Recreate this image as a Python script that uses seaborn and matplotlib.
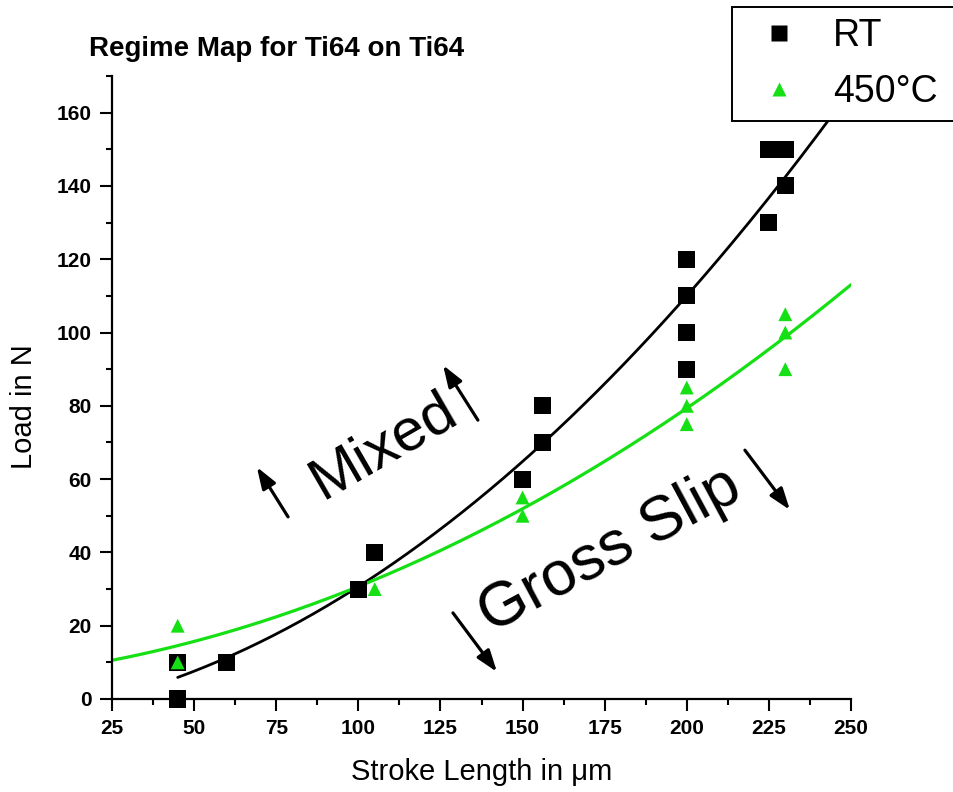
import numpy as np
import pandas as pd
import matplotlib
matplotlib.use("Agg")
import matplotlib.pyplot as plt
from matplotlib.lines import Line2D
import seaborn as sns

# Fretting regime map data: stroke length (um) vs. normal load (N)
rt_stroke = [45, 45, 60, 100, 105, 150, 156, 156, 200, 200, 200, 200, 225, 225, 230, 230]
rt_load = [0, 10, 10, 30, 40, 60, 70, 80, 90, 100, 110, 120, 130, 150, 150, 140]

hot_stroke = [45, 45, 105, 150, 150, 200, 200, 200, 230, 230, 230]
hot_load = [20, 10, 30, 55, 50, 85, 80, 75, 105, 100, 90]

series_labels = ["RT", "450°C"]
x_ticks = [25, 50, 75, 100, 125, 150, 175, 200, 225, 250]
y_ticks = [0, 20, 40, 60, 80, 100, 120, 140, 160]

BLACK = "#000000"
GREEN = "#14e014"

sns.set_style("ticks")
plt.rcParams["font.family"] = ["Liberation Sans", "DejaVu Sans"]
plt.rcParams.update({"text.color": BLACK, "axes.labelcolor": BLACK,
                     "xtick.color": BLACK, "ytick.color": BLACK,
                     "axes.edgecolor": BLACK})

fig = plt.figure(figsize=(9.54, 7.92), dpi=100)
ax = fig.add_axes([112 / 954, 1 - 699 / 792, (851 - 112) / 954, (699 - 76) / 792])

rt = pd.DataFrame({"stroke": rt_stroke, "load": rt_load})
hot = pd.DataFrame({"stroke": hot_stroke, "load": hot_load})

# second-order trend curves through each data set
rt_coef = np.polyfit(rt["stroke"], rt["load"], 2)
hot_coef = np.polyfit(hot["stroke"], hot["load"], 2)
rt_x = np.linspace(min(rt_stroke), 250, 200)
hot_x = np.linspace(25, 250, 200)
rt_fit = pd.DataFrame({"stroke": rt_x, "load": np.polyval(rt_coef, rt_x)})
hot_fit = pd.DataFrame({"stroke": hot_x, "load": np.polyval(hot_coef, hot_x)})

sns.lineplot(data=rt_fit, x="stroke", y="load", color=BLACK, lw=2.0, ax=ax, zorder=2)
sns.lineplot(data=hot_fit, x="stroke", y="load", color=GREEN, lw=2.3, ax=ax, zorder=2)

sns.scatterplot(data=rt, x="stroke", y="load", marker="s", s=150, color=BLACK,
                edgecolor="none", ax=ax, zorder=3, clip_on=False)
sns.scatterplot(data=hot, x="stroke", y="load", marker="^", s=100, color=GREEN,
                edgecolor="none", ax=ax, zorder=4, clip_on=False)

ax.set_xlim(25, 250)
ax.set_ylim(0, 170)
ax.set_xticks(x_ticks)
ax.set_yticks(y_ticks)
ax.set_xticks([t + 12.5 for t in x_ticks[:-1]], minor=True)
ax.set_yticks([t + 10 for t in y_ticks], minor=True)
ax.tick_params(which="major", length=8.5, width=1.5, direction="out", pad=6,
               labelsize=15)
ax.tick_params(which="minor", length=4, width=1.5, direction="out")
for lab in ax.get_xticklabels() + ax.get_yticklabels():
    lab.set_fontweight("bold")

sns.despine(ax=ax)
for side in ("left", "bottom"):
    ax.spines[side].set_linewidth(1.6)

ax.set_xlabel("Stroke Length in μm", fontsize=21, labelpad=14)
ax.set_ylabel("Load in N", fontsize=21)
ax.yaxis.set_label_coords(-0.100, 0.47)

fig.text(89 / 954, 1 - 56 / 792, "Regime Map for Ti64 on Ti64", fontsize=20,
         fontweight="bold", ha="left", va="baseline")

# regime labels with arrows
ax.text(110.0, 65.3, "Mixed", fontsize=43, rotation=30, rotation_mode="anchor",
        ha="center", va="baseline")
ax.text(179.0, 36.6, "Gross Slip", fontsize=45, rotation=28.3, rotation_mode="anchor",
        ha="center", va="baseline")

arrows = [((78.6, 49.7), (69.1, 63.3)), ((136.4, 76.1), (125.8, 91.1)),
          ((128.8, 23.5), (142.2, 7.4)), ((217.7, 67.9), (231.4, 51.6))]
for tail, tip in arrows:
    ax.annotate("", xy=tip, xytext=tail,
                arrowprops=dict(arrowstyle="-|>,head_length=1.0,head_width=0.35",
                                lw=2.3, color=BLACK, mutation_scale=13,
                                shrinkA=0, shrinkB=0))

handles = [
    Line2D([], [], ls="none", marker="s", ms=12, color=BLACK, mec="none"),
    Line2D([], [], ls="none", marker="^", ms=10.5, color=GREEN, mec="none"),
]
leg = ax.legend(handles, series_labels, loc="upper left", mode="expand",
                bbox_to_anchor=(732 / 954, 1 - 117 / 792, 0.3, 110 / 792),
                bbox_transform=fig.transFigure, fontsize=27, frameon=True,
                fancybox=False, edgecolor=BLACK, framealpha=1, borderpad=0.3,
                handlelength=1.9, handletextpad=0.5, labelspacing=0.52,
                borderaxespad=0)
leg.get_frame().set_linewidth(1.4)
leg.set_zorder(10)

fig.savefig("out.png", dpi=100)
